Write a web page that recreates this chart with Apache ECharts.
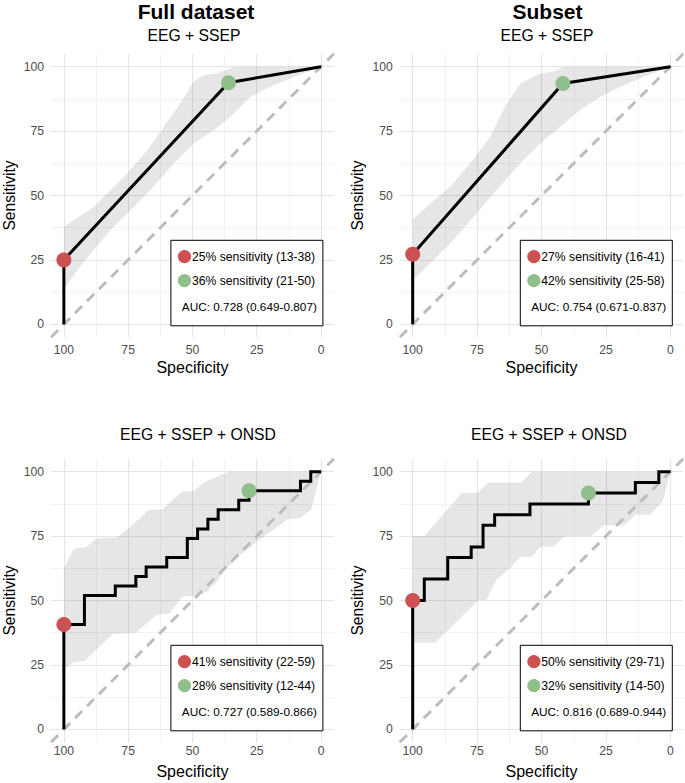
<!DOCTYPE html>
<html><head><meta charset="utf-8">
<script src="https://cdn.jsdelivr.net/npm/echarts@6/dist/echarts.min.js"></script>
<style>html,body{margin:0;padding:0;background:#fff}#c{width:685px;height:783px}</style>
</head><body><div id="c"></div>
<script>
// ---- tick values ----
const majorTicks = [0, 25, 50, 75, 100];
const minorTicks = [12.5, 37.5, 62.5, 87.5];

// ---- titles ----
const columnTitles = ['Full dataset', 'Subset'];
const panelTitles = ['EEG + SSEP', 'EEG + SSEP', 'EEG + SSEP + ONSD', 'EEG + SSEP + ONSD'];
const xTitle = 'Specificity';
const yTitle = 'Sensitivity';

// ---- diagonal reference ----
const diagonal = [[105, -5], [-5, 105]];

// ---- Panel 1: Full dataset, EEG + SSEP ----
const roc1 = [[100, 0], [100, 25], [36, 93.8], [0, 100]];
const red1 = [100, 25];
const green1 = [36, 93.8];
const upper1 = [[100, 38.1], [96.1, 40.4], [88.3, 45.6], [83.2, 50.8], [75.4, 58.5], [67.6, 67.6], [61.1, 76.7], [54.7, 85.8], [49.5, 94.2], [45.6, 96.8], [40.4, 97.4], [33.9, 100], [0, 100]];
const lower1 = [[100, 13.5], [94.8, 21], [89.6, 27.5], [81.9, 36.5], [74.1, 44.3], [66.3, 52.1], [57.3, 62.4], [49.5, 70.2], [41.7, 75.4], [35.2, 80.6], [27.5, 88.3], [21, 91.6], [11.9, 95.5], [0, 100]];

// ---- Panel 2: Subset, EEG + SSEP ----
const roc2 = [[100, 0], [100, 27.2], [41.7, 93.5], [0, 100]];
const red2 = [100, 27.2];
const green2 = [41.7, 93.5];
const upper2 = [[100, 40.7], [94.6, 45.6], [85.5, 53.4], [77.7, 62.4], [69.9, 72.8], [63.5, 85.8], [58.3, 93.5], [50.5, 97.4], [45.3, 98.1], [41.5, 100], [0, 100]];
const lower2 = [[100, 17.1], [94.6, 22.3], [85.5, 31.3], [76.4, 41.7], [67.4, 52.1], [58.3, 62.4], [50.5, 70.2], [42.7, 76.7], [35, 83.2], [27.2, 88.3], [19.4, 92.2], [10.4, 96.1], [0, 100]];

// ---- Panel 3: Full dataset, EEG + SSEP + ONSD ----
const roc3 = [[100, 0], [100, 40.7], [92, 40.7], [92, 51.9], [80, 51.9], [80, 55.6], [72, 55.6], [72, 59.3], [68, 59.3], [68, 63], [60, 63], [60, 66.7], [52, 66.7], [52, 74.1], [48, 74.1], [48, 77.8], [44, 77.8], [44, 81.5], [40, 81.5], [40, 85.2], [32, 85.2], [32, 88.9], [28, 88.9], [28, 92.6], [8, 92.6], [8, 96.3], [4, 96.3], [4, 100], [0, 100]];
const red3 = [100, 40.7];
const green3 = [28, 92.6];
const upper3 = [[100, 62.5], [96.1, 70.2], [91.6, 70.6], [87.1, 74.1], [79.3, 74.5], [74.8, 78], [67, 85.1], [61.8, 85.4], [54.1, 92.2], [49.5, 92.5], [45, 96.1], [36, 100], [0, 100]];
const lower3 = [[100, 23.5], [96, 26.2], [92, 26.5], [81, 37], [72, 37.5], [64, 44.5], [59, 45], [54, 51.5], [48, 52], [44.5, 53.4], [40.6, 57.3], [37.4, 61.8], [32.2, 67], [25.1, 72.8], [12.9, 81.5], [8.4, 81.9], [3.9, 85.1], [0, 100]];

// ---- Panel 4: Subset, EEG + SSEP + ONSD ----
const roc4 = [[100, 0], [100, 50], [95.5, 50], [95.5, 58.3], [86.4, 58.3], [86.4, 66.7], [77.3, 66.7], [77.3, 70.8], [72.7, 70.8], [72.7, 79.2], [68.2, 79.2], [68.2, 83.3], [54.5, 83.3], [54.5, 87.5], [31.8, 87.5], [31.8, 91.7], [13.6, 91.7], [13.6, 95.8], [4.5, 95.8], [4.5, 100], [0, 100]];
const red4 = [100, 50];
const green4 = [31.8, 91.7];
const upper4 = [[100, 75], [95.5, 75], [81, 91.7], [74.8, 91.7], [70.6, 95.8], [57.8, 95.8], [53.8, 100], [0, 100]];
const lower4 = [[100, 33.6], [91.3, 33.6], [74.5, 50.2], [71.5, 50.2], [67.4, 58.2], [62.2, 62.5], [58.3, 67], [53.8, 67], [50.5, 70.9], [45.3, 70.9], [41, 75], [30.5, 75], [26, 79.2], [18, 79.2], [13.6, 83.3], [7.8, 83.3], [3, 88.4], [0, 100]];

// ---- legend texts ----
const redLabels = ['25% sensitivity (13-38)', '27% sensitivity (16-41)', '41% sensitivity (22-59)', '50% sensitivity (29-71)'];
const greenLabels = ['36% sensitivity (21-50)', '42% sensitivity (25-58)', '28% sensitivity (12-44)', '32% sensitivity (14-50)'];
const aucLabels = ['AUC: 0.728 (0.649-0.807)', 'AUC: 0.754 (0.671-0.837)', 'AUC: 0.727 (0.589-0.866)', 'AUC: 0.816 (0.689-0.944)'];

// ---- build ----
const panels = [
  {roc: roc1, red: red1, green: green1, upper: upper1, lower: lower1},
  {roc: roc2, red: red2, green: green2, upper: upper2, lower: lower2},
  {roc: roc3, red: red3, green: green3, upper: upper3, lower: lower3},
  {roc: roc4, red: red4, green: green4, upper: upper4, lower: lower4}
];
const FONT = "'Liberation Sans', Arial, Helvetica, sans-serif";
const RED = '#cd5152', GREEN = '#8fbf8b';
const gw = 283.5, gh = 283.4;
const gridPos = [[50.4, 53.8], [399.8, 53.8], [50.4, 458.8], [399.8, 458.8]];

const grid = [], xAxis = [], yAxis = [], series = [], graphic = [];
panels.forEach((p, i) => {
  const [gl, gt] = gridPos[i];
  grid.push({left: gl, top: gt, width: gw, height: gh, containLabel: false});
  const bottomRow = i >= 2;
  // major axes
  xAxis.push({
    gridIndex: i, type: 'value', min: -5, max: 105, inverse: true, position: 'bottom',
    axisLine: {show: false}, axisTick: {show: false, customValues: majorTicks},
    splitLine: {show: true, customValues: majorTicks, lineStyle: {color: '#e4e4e4', width: 1.1}},
    axisLabel: {customValues: majorTicks, color: '#4d4d4d', fontSize: 12.2, fontFamily: FONT, margin: bottomRow ? 3 : 7},
    name: xTitle, nameLocation: 'middle', nameGap: bottomRow ? 21 : 22,
    nameTextStyle: {fontSize: 16, color: '#000', fontFamily: FONT}
  });
  // minor axes (grid only)
  xAxis.push({
    gridIndex: i, type: 'value', min: -5, max: 105, inverse: true, position: 'bottom',
    axisLine: {show: false}, axisTick: {show: false, customValues: minorTicks},
    splitLine: {show: true, customValues: minorTicks, lineStyle: {color: '#efefef', width: 0.8}},
    axisLabel: {show: false}
  });
  yAxis.push({
    gridIndex: i, type: 'value', min: -5, max: 105,
    axisLine: {show: false}, axisTick: {show: false, customValues: majorTicks},
    splitLine: {show: true, customValues: majorTicks, lineStyle: {color: '#e4e4e4', width: 1.1}},
    axisLabel: {customValues: majorTicks, color: '#4d4d4d', fontSize: 12.2, fontFamily: FONT, margin: 7},
    name: yTitle, nameLocation: 'middle', nameRotate: 90, nameGap: 34,
    nameTextStyle: {fontSize: 15.6, color: '#000', fontFamily: FONT}
  });
  yAxis.push({
    gridIndex: i, type: 'value', min: -5, max: 105,
    axisLine: {show: false}, axisTick: {show: false, customValues: minorTicks},
    splitLine: {show: true, customValues: minorTicks, lineStyle: {color: '#efefef', width: 0.8}},
    axisLabel: {show: false}
  });
  const xi = 2 * i, yi = 2 * i;
  const bandPts = p.upper.concat(p.lower.slice().reverse());
  series.push({
    type: 'custom', xAxisIndex: xi, yAxisIndex: yi, silent: true, data: bandPts, z: 1,
    renderItem: (params, api) => {
      if (params.dataIndex !== 0) return null;
      const pts = bandPts.map(d => api.coord(d));
      return {type: 'polygon', shape: {points: pts}, style: {fill: 'rgba(128,128,128,0.2)'}};
    }
  });
  series.push({
    type: 'line', xAxisIndex: xi, yAxisIndex: yi, data: diagonal, symbol: 'none', silent: true, z: 2,
    lineStyle: {color: '#bdbdbd', width: 3, type: [10, 7]}
  });
  series.push({
    type: 'line', xAxisIndex: xi, yAxisIndex: yi, data: p.roc, symbol: 'none', silent: true, z: 3,
    lineStyle: {color: '#000', width: 3, join: 'miter'}
  });
  series.push({
    type: 'scatter', xAxisIndex: xi, yAxisIndex: yi, data: [p.red], symbolSize: 15, silent: true, z: 4,
    itemStyle: {color: RED, opacity: 1}
  });
  series.push({
    type: 'scatter', xAxisIndex: xi, yAxisIndex: yi, data: [p.green], symbolSize: 15, silent: true, z: 4,
    itemStyle: {color: GREEN, opacity: 1}
  });

  // legend box (layout relative to grid)
  const bx = gl + 120.5, by = gt + 186.5, bw = 152, bh = 85.5;
  graphic.push({type: 'rect', shape: {x: bx, y: by, width: bw, height: bh}, style: {fill: '#fff', stroke: '#000', lineWidth: 1}, z: 100});
  graphic.push({type: 'circle', shape: {cx: bx + 13.6, cy: by + 16.3, r: 6.6}, style: {fill: RED}, z: 101});
  graphic.push({type: 'text', x: bx + 21, y: by + 16.3, style: {text: redLabels[i], fill: '#000', fontSize: 12.2, fontFamily: FONT, align: 'left', verticalAlign: 'middle'}, z: 101});
  graphic.push({type: 'circle', shape: {cx: bx + 13.6, cy: by + 40.3, r: 6.6}, style: {fill: GREEN}, z: 101});
  graphic.push({type: 'text', x: bx + 21, y: by + 40.3, style: {text: greenLabels[i], fill: '#000', fontSize: 12.2, fontFamily: FONT, align: 'left', verticalAlign: 'middle'}, z: 101});
  graphic.push({type: 'text', x: bx + bw - 6, y: by + 67, style: {text: aucLabels[i], fill: '#000', fontSize: 11.8, fontFamily: FONT, align: 'right', verticalAlign: 'middle'}, z: 101});
});

// titles
const colCenters = [196, 547.5];
columnTitles.forEach((t, c) => {
  graphic.push({type: 'text', x: colCenters[c], y: 11, style: {text: t, fill: '#000', fontSize: 21, fontWeight: 'bold', fontFamily: FONT, align: 'center', verticalAlign: 'middle'}});
});
const subCenters = [[194, 35], [547, 35], [198, 434.5], [549, 434.5]];
panelTitles.forEach((t, i) => {
  graphic.push({type: 'text', x: subCenters[i][0], y: subCenters[i][1], style: {text: t, fill: '#000', fontSize: 15.7, fontFamily: FONT, align: 'center', verticalAlign: 'middle'}});
});

const chart = echarts.init(document.getElementById('c'), null, {renderer: 'svg'});
chart.setOption({
  animation: false,
  backgroundColor: '#fff',
  grid, xAxis, yAxis, series, graphic
});
</script>
</body></html>
